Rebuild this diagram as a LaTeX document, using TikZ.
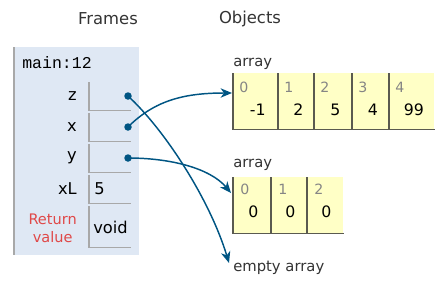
\documentclass[tikz,border=0pt]{standalone}
\usepackage{fontspec}
\setmainfont{DejaVu Sans}
\newfontfamily\codefont{Liberation Mono}
\usetikzlibrary{arrows.meta,calc}

\definecolor{framebg}{HTML}{DFE8F4}
\definecolor{framerule}{HTML}{A8A8A8}
\definecolor{heapbg}{HTML}{FFFFC6}
\definecolor{heaprule}{HTML}{5A5A50}
\definecolor{ptr}{HTML}{005583}
\definecolor{retred}{HTML}{E04848}
\definecolor{idxgrey}{HTML}{858585}
\definecolor{headtext}{HTML}{333333}

% one drawing unit is 0.75pt; sizes below are given in those units
\tikzset{
  heading/.style={font=\fontsize{12.3}{14}\selectfont, text=headtext, inner sep=0pt},
  varname/.style={font=\fontsize{12.2}{14}\selectfont, anchor=east, inner sep=0pt},
  varcell/.style={minimum width=41*0.75pt, minimum height=28*0.75pt, inner sep=0pt, anchor=north west},
  cellrule/.style={draw=framerule, line width=0.8pt},
  varval/.style={font=\fontsize{12.2}{14}\selectfont, anchor=west, inner sep=0pt},
  heapcell/.style={fill=heapbg, minimum height=56*0.75pt, inner sep=0pt, anchor=north west},
  heaprulestyle/.style={draw=heaprule, line width=0.8pt},
  idx/.style={font=\fontsize{10.6}{12}\selectfont, text=idxgrey, anchor=west, inner sep=0pt},
  elem/.style={font=\fontsize{11.8}{14}\selectfont, inner sep=0pt},
  typelabel/.style={font=\fontsize{11.1}{13}\selectfont, text=headtext, anchor=west, inner sep=0pt},
  ptrdot/.style={circle, fill=ptr, minimum size=7.5*0.75pt, inner sep=0pt},
  ptrline/.style={draw=ptr, line width=1.1pt, -{Stealth[length=8.5pt,width=7pt,inset=2.5pt]}},
}

\begin{document}
\begin{tikzpicture}[x=0.75pt,y=-0.75pt]
\useasboundingbox (0,0) rectangle (442,283);

% column headings
\node[heading] (hframes) at (108,19) {Frames};
\node[heading] (hobjects) at (250,19) {Objects};

% stack frame
\fill[framebg] (14,47) rectangle (139,255);
\draw[framerule, line width=0.8pt] (14,47) -- (14,255);
\node[anchor=west, inner sep=0pt, font=\codefont\fontsize{12.4}{14}\selectfont] (fname) at (22,63) {main:12};

% variable slots
\node[varcell] (vz) at (89,82) {};
\node[varcell] (vx) at (89,113) {};
\node[varcell] (vy) at (89,144) {};
\node[varcell] (vxl) at (89,175) {};
\node[varcell, minimum height=41*0.75pt] (vret) at (89,206) {};
\foreach \c in {vz,vx,vy,vxl,vret}
  \draw[cellrule] (\c.north west) -- (\c.south west) -- (\c.south east);

\node[varname] (lz) at (77,96) {z};
\node[varname] (lx) at (77,127) {x};
\node[varname] (ly) at (77,158) {y};
\node[varname] (lxl) at (77,189) {xL};
\node[anchor=east, inner sep=0pt, align=center, text=retred,
      font=\fontsize{10.9}{13.5}\selectfont] (lret) at (77,228) {Return\\value};

\node[varval] (valxl) at (94,189) {5};
\node[varval] (valret) at (93,227) {void};

\node[ptrdot] (dz) at (128,96) {};
\node[ptrdot] (dx) at (128,127) {};
\node[ptrdot] (dy) at (128,158) {};

% first array: -1 2 5 4 99
\node[typelabel] (t1) at (233,64) {array};
\node[heapcell, minimum width=45*0.75pt] (a1c0) at (233,73) {};
\node[heapcell, minimum width=36*0.75pt] (a1c1) at (278,73) {};
\node[heapcell, minimum width=38*0.75pt] (a1c2) at (314,73) {};
\node[heapcell, minimum width=37*0.75pt] (a1c3) at (352,73) {};
\node[heapcell, minimum width=45*0.75pt] (a1c4) at (389,73) {};
\foreach \c in {a1c0,a1c1,a1c2,a1c3,a1c4}
  \draw[heaprulestyle] (\c.north west) -- (\c.south west);
\draw[heaprulestyle] (a1c0.south west) -- (a1c4.south east);
\foreach \c/\i/\v in {a1c0/0/-1, a1c1/1/2, a1c2/2/5, a1c3/3/4, a1c4/4/99} {
  \node[idx] (\c i) at ($(\c.north west)+(6,14)$) {\i};
  \node[elem] (\c v) at ($(\c.north)+(2,37)$) {\v};
}

% second array: 0 0 0
\node[typelabel] (t2) at (233,165) {array};
\node[heapcell, minimum width=38*0.75pt] (a2c0) at (233,177) {};
\node[heapcell, minimum width=36*0.75pt] (a2c1) at (271,177) {};
\node[heapcell, minimum width=36*0.75pt] (a2c2) at (307,177) {};
\foreach \c in {a2c0,a2c1,a2c2}
  \draw[heaprulestyle] (\c.north west) -- (\c.south west);
\draw[heaprulestyle] (a2c0.south west) -- (a2c2.south east);
\foreach \c in {a2c0,a2c1,a2c2}
  \node[elem] (\c v) at ($(\c.north)+(1,35)$) {0};
\node[idx] (a2c0i) at ($(a2c0.north west)+(7,12)$) {0};
\node[idx] (a2c1i) at ($(a2c1.north west)+(7,12)$) {1};
\node[idx] (a2c2i) at ($(a2c2.north west)+(7,12)$) {2};

% empty array
\node[typelabel] (empty) at (233,268) {empty array};

% references
\draw[ptrline] (dx.center) .. controls (155,100) and (185,93) .. ($(a1c0.north west)+(-1,20)$);
\draw[ptrline] (dy.center) .. controls (170,158) and (210,168) .. ($(a2c0.north west)+(-2,16)$);
\draw[ptrline] (dz.center) .. controls (165,130) and (210,200) .. ($(empty.north west)+(-4,2)$);
\end{tikzpicture}
\end{document}
